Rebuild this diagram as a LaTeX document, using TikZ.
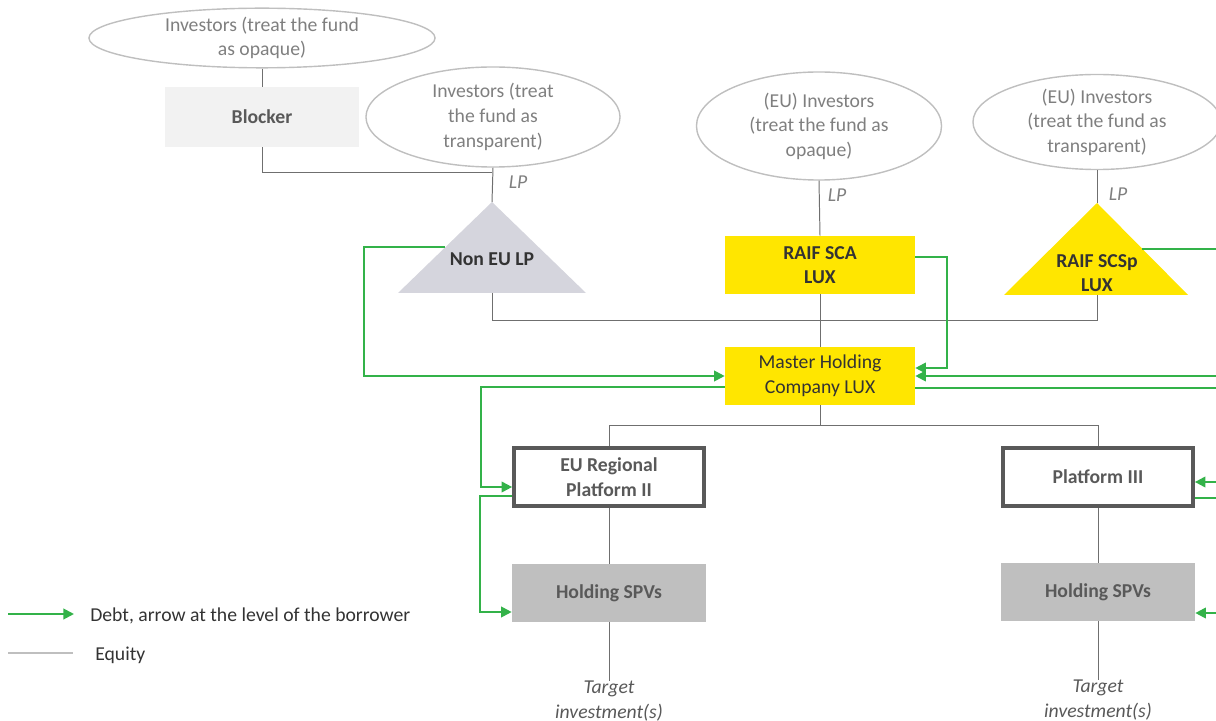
\documentclass[tikz,border=0pt]{standalone}
\usepackage{fontspec}
\setmainfont{Carlito}
\usetikzlibrary{shapes.geometric,arrows.meta,calc}
\definecolor{ellgray}{HTML}{BFBFBF}
\definecolor{txtgray}{HTML}{7F7F7F}
\definecolor{darkgray}{HTML}{595959}
\definecolor{inktext}{HTML}{333333}
\definecolor{lightfill}{HTML}{F2F2F2}
\definecolor{lpfill}{HTML}{D5D5DD}
\definecolor{luxyellow}{HTML}{FFE600}
\definecolor{spvfill}{HTML}{BFBFBF}
\definecolor{debtgreen}{HTML}{33B249}
\definecolor{eqline}{HTML}{6F6F6F}
\tikzset{
  txt/.style={font=\fontsize{14}{17.5}\selectfont, align=center, inner sep=0pt},
  inv/.style={txt, ellipse, draw=ellgray, line width=1pt, text=txtgray},
  box/.style={txt, rectangle, minimum width=4.75cm, minimum height=1.45cm},
  luxbox/.style={box, fill=luxyellow, text=inktext},
  platbox/.style={box, draw=darkgray, line width=2.6pt, text=darkgray, font=\fontsize{14}{17.5}\selectfont\bfseries},
  spvbox/.style={box, fill=spvfill, text=darkgray, minimum width=4.85cm, font=\fontsize{14}{17.5}\selectfont\bfseries},
  lp/.style={txt, text=txtgray, font=\fontsize{14}{17.5}\selectfont\itshape},
  eq/.style={draw=eqline, line width=0.7pt},
  debt/.style={draw=debtgreen, line width=1.4pt, -{Triangle[length=7.5pt,width=7.5pt]}}
}
\begin{document}
\begin{tikzpicture}[x=0.025cm,y=-0.025cm]
  \useasboundingbox (0,0) rectangle (1216,721);
  \clip (0,0) rectangle (1216,721);
  \node[inv, minimum width=8.65cm, minimum height=1.475cm] (inv1) at (262,38) {Investors (treat the fund\\as opaque)};
  \node[box, fill=lightfill, text=darkgray, minimum width=4.85cm, minimum height=1.5cm, font=\fontsize{14}{17.5}\selectfont\bfseries] (blocker) at (262,117) {Blocker};
  \node[inv, minimum width=6.35cm, minimum height=2.5cm] (inv2) at (493,117) {Investors (treat\\the fund as\\transparent)};
  \node[inv, minimum width=6.125cm, minimum height=2.7cm] (inv3) at (819,126) {(EU) Investors\\(treat the fund as\\opaque)};
  \node[inv, minimum width=6.2cm, minimum height=2.375cm] (inv4) at (1097,122) {(EU) Investors\\(treat the fund as\\transparent)};
  \fill[lpfill] (492,202) -- (398,293) -- (586,293) -- cycle;
  \coordinate (nonlp-top) at (492,202);
  \coordinate (nonlp-bot) at (492,293);
  \coordinate (nonlp-w) at (445,247);
  \node[txt, text=inktext, font=\fontsize{14}{17.5}\selectfont\bfseries] (nonlp) at (492,259) {Non EU LP};
  \fill[luxyellow] (1097,203) -- (1004,295) -- (1188,295) -- cycle;
  \coordinate (scsp-top) at (1097,203);
  \coordinate (scsp-bot) at (1097,295);
  \coordinate (scsp-e) at (1142,249);
  \node[txt, text=inktext, font=\fontsize{14}{17.5}\selectfont\bfseries] (scsp) at (1097,273) {RAIF SCSp\\LUX};
  \node[luxbox, font=\fontsize{14}{17.5}\selectfont\bfseries] (sca) at (820,265) {RAIF SCA\\LUX};
  \node[luxbox] (master) at (820,376) {Master Holding\\Company LUX};
  \node[platbox] (euplat) at (609,477) {EU Regional\\Platform II};
  \node[platbox] (plat3) at (1098,477) {Platform III};
  \node[spvbox] (spvl) at (609,593) {Holding SPVs};
  \node[spvbox] (spvr) at (1098,592) {Holding SPVs};
  \node[lp, text=darkgray] (tgtl) at (609,701) {Target\\investment(s)};
  \node[lp, text=darkgray] (tgtr) at (1098,700) {Target\\investment(s)};
  \node[lp] (lp1) at (518,182) {LP};
  \node[lp] (lp2) at (837,195) {LP};
  \node[lp] (lp3) at (1118,194) {LP};
  \draw[eq] (inv1) -- (blocker);
  \draw[eq] (blocker.south) |- (492,172);
  \draw[eq] (inv2.south) -- (nonlp-top);
  \draw[eq] (inv3.south) -- (sca.north);
  \draw[eq] (inv4.south) -- (scsp-top);
  \draw[eq] (nonlp-bot) -- (492,320) -| (scsp-bot);
  \draw[eq] (sca.south) -- (master.north);
  \draw[eq] (master.south) -- (820,426);
  \draw[eq] (euplat.north) -- ++(0,-21) -| (plat3.north);
  \draw[eq] (euplat) -- (spvl);
  \draw[eq] (plat3) -- (spvr);
  \draw[eq] (spvl) -- (tgtl);
  \draw[eq] (spvr) -- (tgtr);
  \draw[debt] (nonlp-w) -- (364,247) |- (master.west);
  \draw[debt] ($(master.west)+(0,11)$) -- (481,387) |- ($(euplat.west)+(0,10)$);
  \draw[debt] ($(euplat.west)+(0,19)$) -- (480,496) |- ($(spvl.west)+(0,19)$);
  \draw[debt] ($(sca.east)+(0,-8)$) -| ($(master.east)+(32,-8)$) -- ($(master.east)+(0,-8)$);
  \draw[debt] (scsp-e) -- (1235,249) |- (master.east);
  \draw[debt] ($(master.east)+(0,12)$) -- (1245,388) |- ($(plat3.east)+(0,5)$);
  \draw[debt] ($(plat3.east)+(0,21)$) -- (1255,498) |- ($(spvr.east)+(0,21)$);
  \node[txt, anchor=west, text=inktext] (legdebt) at (90,616) {Debt, arrow at the level of the borrower};
  \node[txt, anchor=west, text=inktext] (legeq) at (95,655) {Equity};
  \coordinate (legdebt-start) at (8,614);
  \coordinate (legeq-start) at (8,653);
  \draw[debt, shorten >=0.4cm] (legdebt-start) -- (legdebt.west |- legdebt-start);
  \draw[eq, draw=ellgray, line width=1pt, shorten >=0.55cm] (legeq-start) -- (legeq.west |- legeq-start);
\end{tikzpicture}
\end{document}
